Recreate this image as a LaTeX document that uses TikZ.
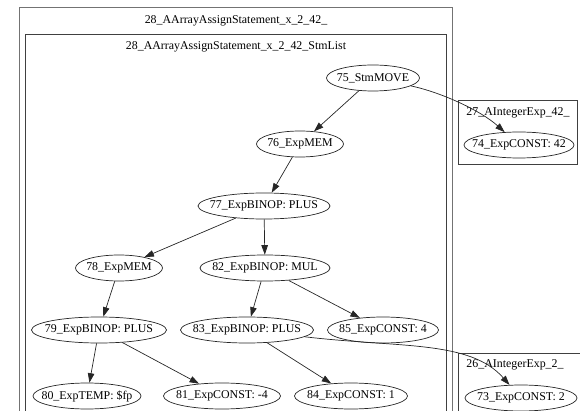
\documentclass[tikz,border=0pt]{standalone}
\usepackage{fontspec}
\setmainfont{Liberation Serif}
\usetikzlibrary{shapes.geometric,arrows.meta}
\newcommand{\gvl}[1]{\makebox[0pt]{#1}}
\begin{document}
\begin{tikzpicture}[x=1pt,y=-1pt,
  gvfont/.style={font=\fontsize{11.9}{14}\selectfont},
  gv/.style={ellipse, draw=black!85, line width=0.7pt, inner sep=0pt, minimum height=26pt, gvfont},
  lbl/.style={inner sep=0pt, gvfont},
  arr/.style={draw=black!85, line width=0.7pt, -{Triangle[length=9.5pt,width=6.5pt]}},
  outerbox/.style={draw=black!55, line width=0.9pt},
  clbox/.style={draw=black!75, line width=0.9pt}]
\useasboundingbox (0,0) rectangle (580,411);
\clip (0,0) rectangle (580,411);
% clusters
\draw[outerbox] (19,7) rectangle (452,430);
\draw[clbox] (25.5,34) rectangle (446,430);
\draw[clbox] (458,100) rectangle (577,164);
\draw[clbox] (458,353) rectangle (600,430);
\node[lbl] (t28) at (236,21) {28\_AArrayAssignStatement\_x\_2\_42\_};
\node[lbl] (t28s) at (236,47) {28\_AArrayAssignStatement\_x\_2\_42\_StmList};
\node[lbl] (t27) at (518,113) {27\_AIntegerExp\_42\_};
\node[lbl] (t26) at (515,365) {26\_AIntegerExp\_2\_};
% nodes
\node[gv, minimum width=93pt]  (n75) at (373,78)  {\gvl{75\_StmMOVE}};
\node[gv, minimum width=87pt]  (n76) at (300,144) {\gvl{76\_ExpMEM}};
\node[gv, minimum width=132pt] (n77) at (264,206) {\gvl{77\_ExpBINOP: PLUS}};
\node[gv, minimum width=87pt]  (n78) at (119,268) {\gvl{78\_ExpMEM}};
\node[gv, minimum width=130pt] (n82) at (265,268) {\gvl{82\_ExpBINOP: MUL}};
\node[gv, minimum width=135pt] (n79) at (99,330)  {\gvl{79\_ExpBINOP: PLUS}};
\node[gv, minimum width=133pt] (n83) at (247,330) {\gvl{83\_ExpBINOP: PLUS}};
\node[gv, minimum width=111pt] (n85) at (383,330) {\gvl{85\_ExpCONST: 4}};
\node[gv, minimum width=108pt] (n80) at (87,396)  {\gvl{80\_ExpTEMP: \$fp}};
\node[gv, minimum width=117pt] (n81) at (222,396) {\gvl{81\_ExpCONST: -4}};
\node[gv, minimum width=113pt] (n84) at (351,396) {\gvl{84\_ExpCONST: 1}};
\node[gv, minimum width=110pt] (n74) at (519,145) {\gvl{74\_ExpCONST: 42}};
\node[gv, minimum width=112pt] (n73) at (521,398) {\gvl{73\_ExpCONST: 2}};
% edges
\draw[arr] (n75) -- (n76);
\draw[arr] (n76) -- (n77);
\draw[arr] (n77) -- (n78);
\draw[arr] (n77) -- (n82);
\draw[arr] (n78) -- (n79);
\draw[arr] (n82) -- (n83);
\draw[arr] (n82) -- (n85);
\draw[arr] (n79) -- (n80);
\draw[arr] (n79) -- (n81);
\draw[arr] (n83) -- (n84);
\draw[arr] (n75) .. controls (440,92) and (480,110) .. (n74);
\draw[arr] (n83) .. controls (400,348) and (470,340) .. (n73);
\end{tikzpicture}
\end{document}
